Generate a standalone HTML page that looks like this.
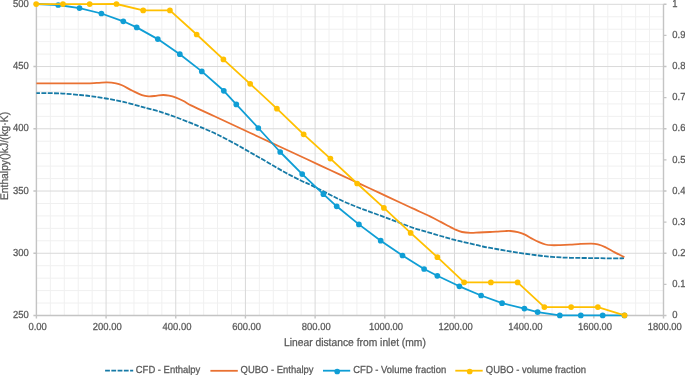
<!DOCTYPE html>
<html><head><meta charset="utf-8"><style>
html,body{margin:0;padding:0;background:#fff;}
body{width:685px;height:375px;overflow:hidden;}
svg{display:block;will-change:transform;}
text{font-family:"Liberation Sans",sans-serif;fill:#595959;stroke:#595959;stroke-width:0.25px;text-rendering:geometricPrecision;}
</style></head><body>
<svg width="685" height="375" viewBox="0 0 685 375">
<rect x="0" y="0" width="685" height="375" fill="#fff"/>
<path d="M50.34,4.30V315.50 M64.27,4.30V315.50 M78.21,4.30V315.50 M92.14,4.30V315.50 M120.01,4.30V315.50 M133.95,4.30V315.50 M147.88,4.30V315.50 M161.82,4.30V315.50 M189.69,4.30V315.50 M203.63,4.30V315.50 M217.56,4.30V315.50 M231.50,4.30V315.50 M259.37,4.30V315.50 M273.30,4.30V315.50 M287.24,4.30V315.50 M301.18,4.30V315.50 M329.05,4.30V315.50 M342.98,4.30V315.50 M356.92,4.30V315.50 M370.85,4.30V315.50 M398.72,4.30V315.50 M412.66,4.30V315.50 M426.60,4.30V315.50 M440.53,4.30V315.50 M468.40,4.30V315.50 M482.34,4.30V315.50 M496.27,4.30V315.50 M510.21,4.30V315.50 M538.08,4.30V315.50 M552.02,4.30V315.50 M565.95,4.30V315.50 M579.89,4.30V315.50 M607.76,4.30V315.50 M621.69,4.30V315.50 M635.63,4.30V315.50 M649.56,4.30V315.50 M36.40,303.05H663.50 M36.40,290.60H663.50 M36.40,278.16H663.50 M36.40,265.71H663.50 M36.40,240.81H663.50 M36.40,228.36H663.50 M36.40,215.92H663.50 M36.40,203.47H663.50 M36.40,178.57H663.50 M36.40,166.12H663.50 M36.40,153.68H663.50 M36.40,141.23H663.50 M36.40,116.33H663.50 M36.40,103.88H663.50 M36.40,91.44H663.50 M36.40,78.99H663.50 M36.40,54.09H663.50 M36.40,41.64H663.50 M36.40,29.20H663.50 M36.40,16.75H663.50" stroke="#f0f0f0" stroke-width="1" fill="none"/>
<path d="M106.08,4.30V315.50 M175.76,4.30V315.50 M245.43,4.30V315.50 M315.11,4.30V315.50 M384.79,4.30V315.50 M454.47,4.30V315.50 M524.14,4.30V315.50 M593.82,4.30V315.50 M36.40,253.26H663.50 M36.40,191.02H663.50 M36.40,128.78H663.50 M36.40,66.54H663.50 M36.40,4.30H663.50" stroke="#d9d9d9" stroke-width="1" fill="none"/>
<path d="M36.40,4.30V315.50 M36.40,315.50H663.50 M663.50,4.30V315.50 M33.40,315.50H36.40 M33.40,253.26H36.40 M33.40,191.02H36.40 M33.40,128.78H36.40 M33.40,66.54H36.40 M33.40,4.30H36.40 M36.40,315.50V318.50 M106.08,315.50V318.50 M175.76,315.50V318.50 M245.43,315.50V318.50 M315.11,315.50V318.50 M384.79,315.50V318.50 M454.47,315.50V318.50 M524.14,315.50V318.50 M593.82,315.50V318.50 M663.50,315.50V318.50 M663.50,315.50H666.50 M663.50,284.38H666.50 M663.50,253.26H666.50 M663.50,222.14H666.50 M663.50,191.02H666.50 M663.50,159.90H666.50 M663.50,128.78H666.50 M663.50,97.66H666.50 M663.50,66.54H666.50 M663.50,35.42H666.50 M663.50,4.30H666.50" stroke="#c4c4c4" stroke-width="1.4" fill="none"/>
<text transform="translate(28.80,315.40) scale(1,1.080)" font-size="9.45" text-anchor="end" dominant-baseline="central">250</text>
<text transform="translate(28.80,253.16) scale(1,1.080)" font-size="9.45" text-anchor="end" dominant-baseline="central">300</text>
<text transform="translate(28.80,190.92) scale(1,1.080)" font-size="9.45" text-anchor="end" dominant-baseline="central">350</text>
<text transform="translate(28.80,128.68) scale(1,1.080)" font-size="9.45" text-anchor="end" dominant-baseline="central">400</text>
<text transform="translate(28.80,66.44) scale(1,1.080)" font-size="9.45" text-anchor="end" dominant-baseline="central">450</text>
<text transform="translate(28.80,4.20) scale(1,1.080)" font-size="9.45" text-anchor="end" dominant-baseline="central">500</text>
<text transform="translate(37.60,327.10) scale(1,1.080)" font-size="9.45" text-anchor="middle" dominant-baseline="central">0.00</text>
<text transform="translate(107.28,327.10) scale(1,1.080)" font-size="9.45" text-anchor="middle" dominant-baseline="central">200.00</text>
<text transform="translate(176.96,327.10) scale(1,1.080)" font-size="9.45" text-anchor="middle" dominant-baseline="central">400.00</text>
<text transform="translate(246.63,327.10) scale(1,1.080)" font-size="9.45" text-anchor="middle" dominant-baseline="central">600.00</text>
<text transform="translate(316.31,327.10) scale(1,1.080)" font-size="9.45" text-anchor="middle" dominant-baseline="central">800.00</text>
<text transform="translate(385.99,327.10) scale(1,1.080)" font-size="9.45" text-anchor="middle" dominant-baseline="central">1000.00</text>
<text transform="translate(455.67,327.10) scale(1,1.080)" font-size="9.45" text-anchor="middle" dominant-baseline="central">1200.00</text>
<text transform="translate(525.34,327.10) scale(1,1.080)" font-size="9.45" text-anchor="middle" dominant-baseline="central">1400.00</text>
<text transform="translate(595.02,327.10) scale(1,1.080)" font-size="9.45" text-anchor="middle" dominant-baseline="central">1600.00</text>
<text transform="translate(664.70,327.10) scale(1,1.080)" font-size="9.45" text-anchor="middle" dominant-baseline="central">1800.00</text>
<text transform="translate(672.30,315.50) scale(1,1.080)" font-size="9.45" dominant-baseline="central">0</text>
<text transform="translate(672.30,284.38) scale(1,1.080)" font-size="9.45" dominant-baseline="central">0.1</text>
<text transform="translate(672.30,253.26) scale(1,1.080)" font-size="9.45" dominant-baseline="central">0.2</text>
<text transform="translate(672.30,222.14) scale(1,1.080)" font-size="9.45" dominant-baseline="central">0.3</text>
<text transform="translate(672.30,191.02) scale(1,1.080)" font-size="9.45" dominant-baseline="central">0.4</text>
<text transform="translate(672.30,159.90) scale(1,1.080)" font-size="9.45" dominant-baseline="central">0.5</text>
<text transform="translate(672.30,128.78) scale(1,1.080)" font-size="9.45" dominant-baseline="central">0.6</text>
<text transform="translate(672.30,97.66) scale(1,1.080)" font-size="9.45" dominant-baseline="central">0.7</text>
<text transform="translate(672.30,66.54) scale(1,1.080)" font-size="9.45" dominant-baseline="central">0.8</text>
<text transform="translate(672.30,35.42) scale(1,1.080)" font-size="9.45" dominant-baseline="central">0.9</text>
<text transform="translate(672.30,4.30) scale(1,1.080)" font-size="9.45" dominant-baseline="central">1</text>
<text transform="translate(354.90,343.50) scale(1,1.080)" font-size="10.3" text-anchor="middle" dominant-baseline="central">Linear distance from inlet (mm)</text>
<text transform="translate(5.60,156.00) rotate(-90) scale(1,1.080)" font-size="10.3" text-anchor="middle" dominant-baseline="central">Enthalpy()kJ/(kg·K)</text>
<path d="M36.40,93.10 C40.33,93.15 52.73,93.08 60.00,93.40 C67.27,93.72 74.67,94.52 80.00,95.00 C85.33,95.48 87.67,95.72 92.00,96.30 C96.33,96.88 101.00,97.63 106.00,98.50 C111.00,99.37 116.15,100.15 122.00,101.50 C127.85,102.85 136.85,105.47 141.10,106.60 C145.35,107.73 144.03,107.35 147.50,108.30 C150.97,109.25 157.22,110.83 161.90,112.30 C166.58,113.77 171.02,115.42 175.60,117.10 C180.18,118.78 185.33,120.78 189.40,122.40 C193.47,124.02 195.35,124.78 200.00,126.80 C204.65,128.82 211.30,131.58 217.30,134.50 C223.30,137.42 230.55,141.33 236.00,144.30 C241.45,147.27 246.07,150.07 250.00,152.30 C253.93,154.53 255.68,155.45 259.60,157.70 C263.52,159.95 268.87,163.13 273.50,165.80 C278.13,168.47 282.78,171.22 287.40,173.70 C292.02,176.18 297.27,178.80 301.20,180.70 C305.13,182.60 306.37,182.85 311.00,185.10 C315.63,187.35 323.65,191.52 329.00,194.20 C334.35,196.88 338.43,199.07 343.10,201.20 C347.77,203.33 352.52,205.23 357.00,207.00 C361.48,208.77 365.43,210.12 370.00,211.80 C374.57,213.48 379.63,215.33 384.40,217.10 C389.17,218.87 393.80,220.62 398.60,222.40 C403.40,224.18 408.45,226.20 413.20,227.80 C417.95,229.40 422.52,230.63 427.10,232.00 C431.68,233.37 436.12,234.68 440.70,236.00 C445.28,237.32 449.88,238.68 454.60,239.90 C459.32,241.12 464.30,242.20 469.00,243.30 C473.70,244.40 478.23,245.55 482.80,246.50 C487.37,247.45 491.78,248.17 496.40,249.00 C501.02,249.83 505.83,250.73 510.50,251.50 C515.17,252.27 519.72,252.93 524.40,253.60 C529.08,254.27 534.00,254.95 538.60,255.50 C543.20,256.05 546.77,256.52 552.00,256.90 C557.23,257.28 562.90,257.60 570.00,257.80 C577.10,258.00 587.13,258.00 594.60,258.10 C602.07,258.20 609.90,258.38 614.80,258.40 C619.70,258.42 622.47,258.23 624.00,258.20" stroke="#167aa6" stroke-width="1.8" fill="none" stroke-dasharray="4.900 1.379" stroke-dashoffset="1.199"/>
<path d="M36.40,83.30 C40.33,83.30 51.07,83.30 60.00,83.30 C68.93,83.30 83.50,83.38 90.00,83.30 C96.50,83.22 96.17,82.95 99.00,82.80 C101.83,82.65 104.17,82.30 107.00,82.40 C109.83,82.50 113.50,82.92 116.00,83.40 C118.50,83.88 119.33,84.12 122.00,85.30 C124.67,86.48 128.67,88.85 132.00,90.50 C135.33,92.15 139.17,94.23 142.00,95.20 C144.83,96.17 146.67,96.20 149.00,96.30 C151.33,96.40 153.67,96.02 156.00,95.80 C158.33,95.58 160.83,95.03 163.00,95.00 C165.17,94.97 166.83,95.17 169.00,95.60 C171.17,96.03 173.67,96.73 176.00,97.60 C178.33,98.47 180.50,99.50 183.00,100.80 C185.50,102.10 188.17,103.93 191.00,105.39 C193.83,106.85 196.00,107.72 200.00,109.58 C204.00,111.44 210.00,114.22 215.00,116.54 C220.00,118.86 225.00,121.19 230.00,123.51 C235.00,125.83 240.00,128.16 245.00,130.48 C250.00,132.80 254.17,134.74 260.00,137.45 C265.83,140.16 273.33,143.64 280.00,146.74 C286.67,149.84 293.33,152.94 300.00,156.03 C306.67,159.12 313.33,162.21 320.00,165.31 C326.67,168.41 333.33,171.51 340.00,174.61 C346.67,177.71 353.33,180.80 360.00,183.90 C366.67,187.00 373.33,190.09 380.00,193.19 C386.67,196.29 394.17,199.77 400.00,202.48 C405.83,205.19 410.00,207.12 415.00,209.44 C420.00,211.76 425.72,214.33 430.00,216.41 C434.28,218.49 437.53,220.25 440.70,221.90 C443.87,223.55 446.68,225.08 449.00,226.30 C451.32,227.52 452.43,228.25 454.60,229.20 C456.77,230.15 459.33,231.38 462.00,232.00 C464.67,232.62 467.75,232.82 470.60,232.90 C473.45,232.98 475.87,232.65 479.10,232.50 C482.33,232.35 487.12,232.13 490.00,232.00 C492.88,231.87 493.90,231.85 496.40,231.70 C498.90,231.55 502.65,231.22 505.00,231.10 C507.35,230.98 508.37,230.83 510.50,231.00 C512.63,231.17 515.48,231.53 517.80,232.10 C520.12,232.67 521.92,233.25 524.40,234.40 C526.88,235.55 530.33,237.75 532.70,239.00 C535.07,240.25 536.47,240.98 538.60,241.90 C540.73,242.82 543.27,243.95 545.50,244.50 C547.73,245.05 549.58,245.10 552.00,245.20 C554.42,245.30 557.00,245.18 560.00,245.10 C563.00,245.02 566.55,244.90 570.00,244.70 C573.45,244.50 577.13,244.08 580.70,243.90 C584.27,243.72 588.55,243.52 591.40,243.60 C594.25,243.68 595.50,243.82 597.80,244.40 C600.10,244.98 602.37,245.77 605.20,247.10 C608.03,248.43 611.60,250.72 614.80,252.40 C618.00,254.08 622.80,256.40 624.40,257.20" stroke="#e97132" stroke-width="1.8" fill="none" stroke-linejoin="round"/>
<polyline points="36.40,4.00 58.20,5.00 79.50,8.10 101.40,13.50 123.30,21.30 136.70,27.40 157.80,39.10 179.80,54.20 201.80,71.40 223.80,90.80 236.30,104.40 258.30,128.00 280.20,152.00 302.20,174.10 323.40,194.20 336.70,206.30 358.90,224.40 380.70,240.70 402.50,255.50 424.10,269.00 437.30,275.80 459.40,286.30 481.10,295.50 502.10,303.20 524.40,308.60 537.60,312.10 559.80,315.40 580.80,315.40 602.70,315.40 624.40,315.40" stroke="#0f9ed5" stroke-width="1.8" fill="none" stroke-linejoin="round"/>
<circle cx="58.20" cy="5.00" r="2.85" fill="#0f9ed5"/><circle cx="79.50" cy="8.10" r="2.85" fill="#0f9ed5"/><circle cx="101.40" cy="13.50" r="2.85" fill="#0f9ed5"/><circle cx="123.30" cy="21.30" r="2.85" fill="#0f9ed5"/><circle cx="136.70" cy="27.40" r="2.85" fill="#0f9ed5"/><circle cx="157.80" cy="39.10" r="2.85" fill="#0f9ed5"/><circle cx="179.80" cy="54.20" r="2.85" fill="#0f9ed5"/><circle cx="201.80" cy="71.40" r="2.85" fill="#0f9ed5"/><circle cx="223.80" cy="90.80" r="2.85" fill="#0f9ed5"/><circle cx="236.30" cy="104.40" r="2.85" fill="#0f9ed5"/><circle cx="258.30" cy="128.00" r="2.85" fill="#0f9ed5"/><circle cx="280.20" cy="152.00" r="2.85" fill="#0f9ed5"/><circle cx="302.20" cy="174.10" r="2.85" fill="#0f9ed5"/><circle cx="323.40" cy="194.20" r="2.85" fill="#0f9ed5"/><circle cx="336.70" cy="206.30" r="2.85" fill="#0f9ed5"/><circle cx="358.90" cy="224.40" r="2.85" fill="#0f9ed5"/><circle cx="380.70" cy="240.70" r="2.85" fill="#0f9ed5"/><circle cx="402.50" cy="255.50" r="2.85" fill="#0f9ed5"/><circle cx="424.10" cy="269.00" r="2.85" fill="#0f9ed5"/><circle cx="437.30" cy="275.80" r="2.85" fill="#0f9ed5"/><circle cx="459.40" cy="286.30" r="2.85" fill="#0f9ed5"/><circle cx="481.10" cy="295.50" r="2.85" fill="#0f9ed5"/><circle cx="502.10" cy="303.20" r="2.85" fill="#0f9ed5"/><circle cx="524.40" cy="308.60" r="2.85" fill="#0f9ed5"/><circle cx="537.60" cy="312.10" r="2.85" fill="#0f9ed5"/><circle cx="559.80" cy="315.40" r="2.85" fill="#0f9ed5"/><circle cx="580.80" cy="315.40" r="2.85" fill="#0f9ed5"/><circle cx="602.70" cy="315.40" r="2.85" fill="#0f9ed5"/><circle cx="624.40" cy="315.40" r="2.85" fill="#0f9ed5"/>
<polyline points="36.20,4.10 62.95,4.10 89.69,4.10 116.44,4.00 143.18,10.40 169.93,10.40 196.67,34.50 223.42,59.40 250.16,83.80 276.91,108.70 303.65,134.30 330.40,158.60 357.15,183.50 383.89,207.90 410.64,232.90 437.38,257.20 464.13,282.30 490.87,282.40 517.62,282.40 544.36,307.10 571.11,307.10 597.85,307.10 624.60,315.30" stroke="#ffc000" stroke-width="1.8" fill="none" stroke-linejoin="round"/>
<circle cx="36.20" cy="4.10" r="2.85" fill="#ffc000"/><circle cx="62.95" cy="4.10" r="2.85" fill="#ffc000"/><circle cx="89.69" cy="4.10" r="2.85" fill="#ffc000"/><circle cx="116.44" cy="4.00" r="2.85" fill="#ffc000"/><circle cx="143.18" cy="10.40" r="2.85" fill="#ffc000"/><circle cx="169.93" cy="10.40" r="2.85" fill="#ffc000"/><circle cx="196.67" cy="34.50" r="2.85" fill="#ffc000"/><circle cx="223.42" cy="59.40" r="2.85" fill="#ffc000"/><circle cx="250.16" cy="83.80" r="2.85" fill="#ffc000"/><circle cx="276.91" cy="108.70" r="2.85" fill="#ffc000"/><circle cx="303.65" cy="134.30" r="2.85" fill="#ffc000"/><circle cx="330.40" cy="158.60" r="2.85" fill="#ffc000"/><circle cx="357.15" cy="183.50" r="2.85" fill="#ffc000"/><circle cx="383.89" cy="207.90" r="2.85" fill="#ffc000"/><circle cx="410.64" cy="232.90" r="2.85" fill="#ffc000"/><circle cx="437.38" cy="257.20" r="2.85" fill="#ffc000"/><circle cx="464.13" cy="282.30" r="2.85" fill="#ffc000"/><circle cx="490.87" cy="282.40" r="2.85" fill="#ffc000"/><circle cx="517.62" cy="282.40" r="2.85" fill="#ffc000"/><circle cx="544.36" cy="307.10" r="2.85" fill="#ffc000"/><circle cx="571.11" cy="307.10" r="2.85" fill="#ffc000"/><circle cx="597.85" cy="307.10" r="2.85" fill="#ffc000"/><circle cx="624.60" cy="315.30" r="2.85" fill="#ffc000"/>
<path d="M105.1,370.6H133.2" stroke="#167aa6" stroke-width="1.8" stroke-dasharray="4.800 1.450"/>
<text transform="translate(135.80,370.30) scale(1,1.080)" font-size="9.45" dominant-baseline="central">CFD - Enthalpy</text>
<path d="M210.4,370.8H237.8" stroke="#e97132" stroke-width="1.8"/>
<text transform="translate(240.60,370.30) scale(1,1.080)" font-size="9.45" dominant-baseline="central">QUBO - Enthalpy</text>
<path d="M323,370.7H350.2" stroke="#0f9ed5" stroke-width="1.8"/><circle cx="337.2" cy="371.5" r="2.85" fill="#0f9ed5"/>
<text transform="translate(353.30,370.30) scale(1,1.080)" font-size="9.45" dominant-baseline="central">CFD - Volume fraction</text>
<path d="M455.3,370.7H482.7" stroke="#ffc000" stroke-width="1.8"/><circle cx="469.7" cy="371.5" r="2.85" fill="#ffc000"/>
<text transform="translate(485.80,370.30) scale(1,1.080)" font-size="9.45" dominant-baseline="central">QUBO - volume fraction</text>
</svg>
</body></html>
